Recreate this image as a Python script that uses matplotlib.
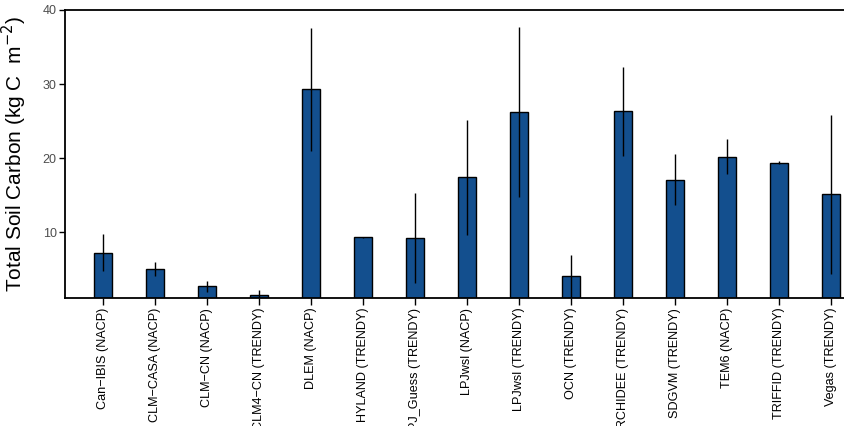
import matplotlib
matplotlib.use("Agg")
import matplotlib.pyplot as plt
import numpy as np

# modelos y carbono del suelo (kg C m-2)
modelos = ["Can\u2212IBIS (NACP)", "CLM\u2212CASA (NACP)", "CLM\u2212CN (NACP)",
           "CLM4\u2212CN (TRENDY)", "DLEM (NACP)", "HYLAND (TRENDY)",
           "LPJ_Guess (TRENDY)", "LPJwsl (NACP)", "LPJwsl (TRENDY)",
           "OCN (TRENDY)", "ORCHIDEE (TRENDY)", "SDGVM (TRENDY)",
           "TEM6 (NACP)", "TRIFFID (TRENDY)", "Vegas (TRENDY)"]
carboni = [7.2, 5.0, 2.7, 1.5, 29.3, 9.3, 9.2, 17.4, 26.2, 4.1, 26.3, 17.1, 20.2, 19.4, 15.1]
error = [2.5, 0.9, 0.75, 0.7, 8.3, 0.1, 6.1, 7.8, 11.5, 2.8, 6.0, 3.5, 2.4, 0.15, 10.7]
yticks = [10, 20, 30, 40]

plt.rcParams['font.family'] = ['Liberation Sans', 'DejaVu Sans']

fig = plt.figure(figsize=(8.44, 4.26), dpi=100)
ax = fig.add_axes([65 / 844, 1 - 298 / 426, 779 / 844, 288 / 426])

x = np.arange(len(modelos))
ax.bar(x, carboni, width=0.33, color='#134f8e', edgecolor='black', linewidth=1.0, zorder=2)
ax.errorbar(x, carboni, yerr=error, fmt='none', ecolor='black', elinewidth=1.0,
            capsize=0, zorder=3)

ax.set_xlim(-0.73, 14.25)
ax.set_ylim(1.1, 40)
ax.set_yticks(yticks)
ax.set_xticks(x)
ax.set_xticklabels(modelos, rotation=90, ha='center', va='top', fontsize=9.1)
ax.tick_params(axis='y', direction='out', length=4, width=1, labelsize=9,
               labelcolor='#4d4d4d', pad=2)
ax.tick_params(axis='x', direction='out', length=5, width=1, pad=2)

for side in ['left', 'bottom', 'top']:
    ax.spines[side].set_linewidth(1.3)
ax.spines['right'].set_visible(False)

ax.set_ylabel("Total Soil Carbon (kg C  m$^{-2}$)", fontsize=15, labelpad=10)

fig.savefig("out.png", dpi=100)
